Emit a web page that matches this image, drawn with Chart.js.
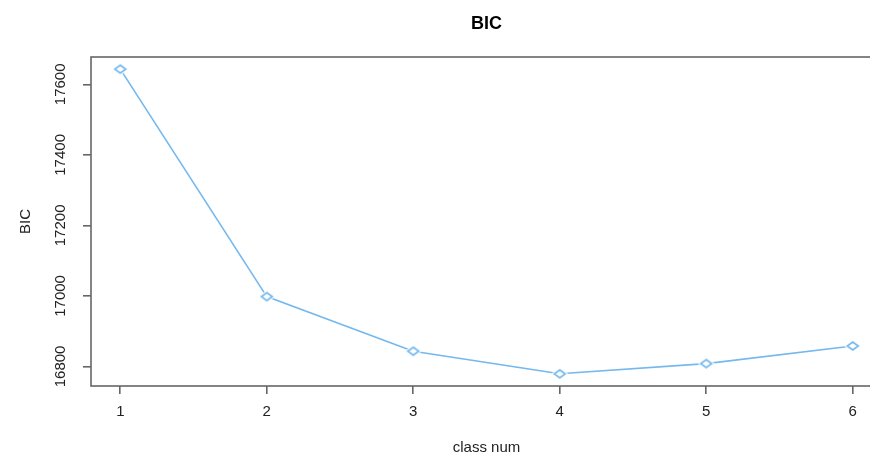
<!DOCTYPE html>
<html>
<head>
<meta charset="utf-8">
<script src="https://cdn.jsdelivr.net/npm/chart.js@4/dist/chart.umd.min.js"></script>
<style>
  html, body { margin: 0; padding: 0; background: #fff; overflow: hidden; }
  #wrap { width: 870px; height: 452px; overflow: hidden; }
  canvas { display: block; }
</style>
</head>
<body>
<div id="wrap"><canvas id="bic" width="900" height="460"></canvas></div>
<script>
// BIC by number of latent classes, styled after an R base plot (type = "b", pch = 5).

const TITLE = 'BIC';
const CLASS_NUM = [1, 2, 3, 4, 5, 6];
const BIC = [17643, 16998, 16843, 16779, 16808, 16858];
const X_TICKS = [1, 2, 3, 4, 5, 6];
const Y_TICKS = [16800, 17000, 17200, 17400, 17600];

const FONT = 'Liberation Sans, Arial, Helvetica, sans-serif';
const BLUE = '#74b8ee';
const AXIS = '#666';

// R pads the data range by 4% on each side
function rRange(vals) {
  const lo = Math.min(...vals), hi = Math.max(...vals);
  const pad = (hi - lo) * 0.04;
  return [lo - pad, hi + pad];
}
const [xMin, xMax] = rRange(CLASS_NUM);
const [yMin, yMax] = rRange(BIC);

// open diamond with a white halo, so the line stops short of it like in R
function diamond() {
  const c = document.createElement('canvas');
  c.width = 20; c.height = 16;
  const g = c.getContext('2d');
  const shape = (hw, hh) => {
    g.beginPath();
    g.moveTo(10, 8 - hh); g.lineTo(10 + hw, 8); g.lineTo(10, 8 + hh); g.lineTo(10 - hw, 8);
    g.closePath();
  };
  shape(8.5, 6.5);
  g.fillStyle = '#fff';
  g.fill();
  shape(5.5, 4);
  g.lineWidth = 1.6;
  g.strokeStyle = BLUE;
  g.stroke();
  return c;
}

// box round the plot region + main title centred over it (R centres on the plot, not the device)
const boxPlugin = {
  id: 'rbox',
  afterDatasetsDraw(chart) {
    const a = chart.chartArea, ctx = chart.ctx;
    ctx.save();
    ctx.strokeStyle = AXIS;
    ctx.lineWidth = 1.6;
    ctx.strokeRect(a.left, a.top, a.right - a.left, a.bottom - a.top);
    ctx.fillStyle = '#000';
    ctx.font = 'bold 18px ' + FONT;
    ctx.textAlign = 'center';
    ctx.textBaseline = 'alphabetic';
    ctx.fillText(TITLE, (a.left + a.right) / 2, 29.3);
    ctx.restore();
  },
};

const fixedTicks = (list) => (scale) => { scale.ticks = list.map((v) => ({ value: v })); };

new Chart(document.getElementById('bic'), {
  type: 'line',
  data: {
    datasets: [{
      label: 'BIC',
      data: CLASS_NUM.map((x, i) => ({ x, y: BIC[i] })),
      borderColor: BLUE,
      borderWidth: 1.6,
      tension: 0,
      fill: false,
      pointStyle: diamond(),
      pointRadius: 6,
      pointHoverRadius: 6,
    }],
  },
  options: {
    responsive: false,
    animation: false,
    events: [],
    layout: { padding: { left: 0, right: 18, top: 57, bottom: 0 } },
    plugins: {
      legend: { display: false },
      tooltip: { enabled: false },
      title: { display: false },
    },
    scales: {
      x: {
        type: 'linear',
        min: xMin,
        max: xMax,
        afterBuildTicks: fixedTicks(X_TICKS),
        afterFit: (s) => { s.height = 74; },
        border: { display: false },
        grid: { drawOnChartArea: false, drawTicks: true, tickLength: 8, color: AXIS, lineWidth: 1.6 },
        ticks: {
          color: '#222', padding: 9, maxRotation: 0,
          font: { family: FONT, size: 15 },
          callback: (v) => String(v),
        },
        title: {
          display: true,
          text: 'class num',
          color: '#222',
          font: { family: FONT, size: 15, lineHeight: 1.2 },
          padding: { top: 0, bottom: 3.2 },
        },
      },
      y: {
        type: 'linear',
        min: yMin,
        max: yMax,
        afterBuildTicks: fixedTicks(Y_TICKS),
        afterFit: (s) => { s.width = 91; },
        border: { display: false },
        grid: { drawOnChartArea: false, drawTicks: true, tickLength: 8, color: AXIS, lineWidth: 1.6 },
        ticks: {
          color: '#222', padding: 1.2, minRotation: 90, maxRotation: 90, crossAlign: 'center',
          font: { family: FONT, size: 15 },
          callback: (v) => String(v),
        },
        title: {
          display: true,
          text: 'BIC',
          color: '#222',
          font: { family: FONT, size: 15, lineHeight: 1.2 },
          padding: { top: 17.3, bottom: 0 },
        },
      },
    },
  },
  plugins: [boxPlugin],
});
</script>
</body>
</html>
